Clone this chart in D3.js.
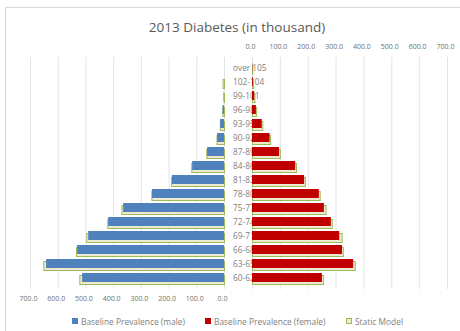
<!DOCTYPE html>
<html>
<head>
<meta charset="utf-8">
<script src="https://cdn.jsdelivr.net/npm/d3@7"></script>
<style>
  html, body { margin: 0; padding: 0; background: #fff; }
  svg { display: block; font-family: "Open Sans", "Liberation Sans", sans-serif; }
</style>
</head>
<body>
<svg id="chart" width="460" height="331"></svg>
<script>
const categories = ["over 105","102-104","99-101","96-98","93-95","90-92","87-89","84-86","81-83","78-80","75-77","72-74","69-71","66-68","63-65","60-62"];
const maleBaseline   = [0, 0, 1, 5, 14, 25, 61, 115, 188, 260, 364, 418, 490, 530, 642, 512];
const femaleBaseline = [1, 3, 8, 14, 35, 63, 97, 155, 187, 240, 258, 283, 313, 323, 363, 251];
const maleStatic     = [0, 5, 2, 6, 15, 27, 64, 118, 191, 262, 370, 421, 497, 534, 652, 522];
const femaleStatic   = [1, 4, 9, 15, 37, 65, 100, 158, 190, 243, 264, 286, 322, 326, 369, 255];
const tickValues = [0, 100, 200, 300, 400, 500, 600, 700];
const title = "2013 Diabetes (in thousand)";
const legendLabels = ["Baseline Prevalence (male)", "Baseline Prevalence (female)", "Static Model"];

const colors = { male: "#4f81bd", female: "#c00000", staticStroke: "#9bbb59", staticFill: "#efe9cf" };

const svg = d3.select("#chart");

// chart border
svg.append("rect").attr("x", 5.5).attr("y", 7.5).attr("width", 460).attr("height", 330)
  .attr("fill", "none").attr("stroke", "#d9d9d9");

svg.append("text").attr("x", 237).attr("y", 32).attr("text-anchor", "middle")
  .attr("font-size", 13.5).attr("fill", "#595959").text(title);

const xL = d3.scaleLinear().domain([700, 0]).range([30, 224]);
const xR = d3.scaleLinear().domain([0, 700]).range([252, 447]);
const y = d3.scaleBand().domain(categories).range([61, 285]).padding(0);

const gridTop = 57, gridBottom = 289;

// gridlines
svg.append("g").selectAll("line").data(tickValues).join("line")
  .attr("x1", d => xL(d) + 0.5).attr("x2", d => xL(d) + 0.5)
  .attr("y1", gridTop).attr("y2", gridBottom).attr("stroke", "#e3e3e3");
svg.append("g").selectAll("line").data(tickValues).join("line")
  .attr("x1", d => xR(d) + 0.5).attr("x2", d => xR(d) + 0.5)
  .attr("y1", gridTop).attr("y2", gridBottom).attr("stroke", "#e3e3e3");

// axes
const fmt = d3.format(".1f");
const axB = svg.append("g").attr("transform", "translate(-2,293)")
  .call(d3.axisBottom(xL).tickValues(tickValues).tickFormat(fmt).tickSize(0));
const axT = svg.append("g").attr("transform", "translate(-2,52)")
  .call(d3.axisTop(xR).tickValues(tickValues).tickFormat(fmt).tickSize(0));
[axB, axT].forEach(a => {
  a.select(".domain").remove();
  a.selectAll("text").attr("font-size", 7).attr("fill", "#6f6f6f")
    .attr("font-family", "'Open Sans', 'Liberation Sans', sans-serif");
});

// category labels (drawn below female bars)
svg.append("g").selectAll("text").data(categories).join("text")
  .attr("x", 233).attr("y", d => y(d) + y.bandwidth() / 2 + 3)
  .attr("font-size", 8.3).attr("fill", "#7f7f7f").text(d => d);

const bh = 9;
const rowsM = categories.map((c, i) => ({ c, b: maleBaseline[i], s: maleStatic[i] }));
const rowsF = categories.map((c, i) => ({ c, b: femaleBaseline[i], s: femaleStatic[i] }));

// static model bars (behind, offset)
svg.append("g").selectAll("rect").data(rowsM.filter(d => d.s > 0)).join("rect")
  .attr("x", d => xL(d.s) + 0.5).attr("y", d => y(d.c) + 4.5)
  .attr("width", d => xL(0) - xL(d.s)).attr("height", bh)
  .attr("fill", colors.staticFill).attr("stroke", colors.staticStroke).attr("stroke-width", 1);
svg.append("g").selectAll("rect").data(rowsF.filter(d => d.s > 0)).join("rect")
  .attr("x", xR(0) + 0.5).attr("y", d => y(d.c) + 4.5)
  .attr("width", d => xR(d.s) - xR(0)).attr("height", bh)
  .attr("fill", colors.staticFill).attr("stroke", colors.staticStroke).attr("stroke-width", 1);

// baseline bars
svg.append("g").selectAll("rect").data(rowsM.filter(d => d.b > 0)).join("rect")
  .attr("x", d => xL(d.b)).attr("y", d => y(d.c) + 2)
  .attr("width", d => xL(0) - xL(d.b)).attr("height", bh)
  .attr("fill", colors.male);
svg.append("g").selectAll("rect").data(rowsF.filter(d => d.b > 0)).join("rect")
  .attr("x", xR(0)).attr("y", d => y(d.c) + 2)
  .attr("width", d => xR(d.b) - xR(0)).attr("height", bh)
  .attr("fill", colors.female);

// legend
const legendItems = [
  { label: legendLabels[0], x: 72, type: "male" },
  { label: legendLabels[1], x: 205, type: "female" },
  { label: legendLabels[2], x: 346, type: "static" }
];
const lg = svg.append("g").selectAll("g").data(legendItems).join("g")
  .attr("transform", d => `translate(${d.x},318)`);
lg.append("rect").attr("x", d => d.type === "static" ? 0.5 : 0).attr("y", d => d.type === "static" ? 0.5 : 0)
  .attr("width", d => d.type === "static" ? 5 : 6).attr("height", d => d.type === "static" ? 5 : 6)
  .attr("fill", d => d.type === "male" ? colors.male : d.type === "female" ? colors.female : colors.staticFill)
  .attr("stroke", d => d.type === "static" ? colors.staticStroke : "none");
lg.append("text").attr("x", 9).attr("y", 6.5).attr("font-size", 8.4).attr("fill", "#7f7f7f").text(d => d.label);
</script>
</body>
</html>
